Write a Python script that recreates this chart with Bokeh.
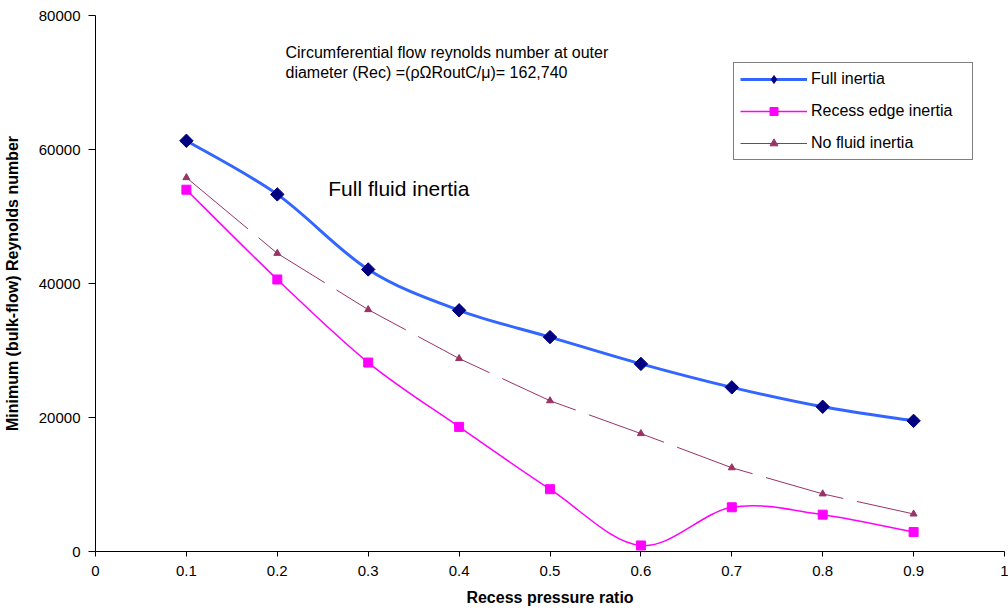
from bokeh.plotting import figure
from bokeh.models import Label, Legend, LegendItem, FixedTicker, ColumnDataSource
from bokeh.embed import file_html
from bokeh.resources import INLINE
import numpy as np

# ---- data ----
pressure_ratio = [0.1, 0.2, 0.3, 0.4, 0.5, 0.6, 0.7, 0.8, 0.9]
full_inertia = [61300, 53300, 42100, 36000, 32000, 28000, 24500, 21600, 19500]
recess_edge_inertia = [54000, 40600, 28200, 18600, 9300, 900, 6600, 5500, 2900]
no_fluid_inertia = [55800, 44500, 36100, 28800, 22500, 17600, 12500, 8600, 5600]

x_ticks = [0, 0.1, 0.2, 0.3, 0.4, 0.5, 0.6, 0.7, 0.8, 0.9, 1]
x_tick_labels = ["0", "0.1", "0.2", "0.3", "0.4", "0.5", "0.6", "0.7", "0.8", "0.9", "1"]
y_ticks = [0, 20000, 40000, 60000, 80000]
y_tick_labels = ["0", "20000", "40000", "60000", "80000"]

FONT = "Liberation Sans"


def smooth_segments(xs, ys):
    """Catmull-Rom style Bezier control points (as Excel's smoothed line)."""
    xs = np.asarray(xs, float)
    ys = np.asarray(ys, float)
    n = len(xs)
    d = dict(x0=[], y0=[], x1=[], y1=[], cx0=[], cy0=[], cx1=[], cy1=[])
    for i in range(n - 1):
        p0 = max(i - 1, 0)
        p3 = min(i + 2, n - 1)
        d["x0"].append(xs[i]); d["y0"].append(ys[i])
        d["x1"].append(xs[i + 1]); d["y1"].append(ys[i + 1])
        d["cx0"].append(xs[i] + (xs[i + 1] - xs[p0]) / 6)
        d["cy0"].append(ys[i] + (ys[i + 1] - ys[p0]) / 6)
        d["cx1"].append(xs[i + 1] - (xs[p3] - xs[i]) / 6)
        d["cy1"].append(ys[i + 1] - (ys[p3] - ys[i]) / 6)
    return ColumnDataSource(d)


p = figure(width=1008, height=610, x_range=(0, 1), y_range=(0, 80000),
           output_backend="svg", toolbar_location=None,
           min_border_left=95, min_border_right=4, min_border_top=15, min_border_bottom=59)
p.outline_line_color = None
p.grid.visible = False
p.background_fill_color = "white"
p.border_fill_color = "white"

# axes
p.xaxis.ticker = FixedTicker(ticks=x_ticks)
p.xaxis.major_label_overrides = {t: l for t, l in zip(x_ticks, x_tick_labels)}
p.yaxis.ticker = FixedTicker(ticks=y_ticks)
p.yaxis.major_label_overrides = {t: l for t, l in zip(y_ticks, y_tick_labels)}
for ax in (p.xaxis, p.yaxis):
    ax.axis_line_color = "black"
    ax.major_tick_line_color = "black"
    ax.minor_tick_line_color = None
    ax.major_tick_in = 0
    ax.major_label_text_font = FONT
    ax.major_label_text_font_size = "15px"
    ax.major_label_text_color = "black"
    ax.axis_label_text_font = FONT
    ax.axis_label_text_font_size = "16px"
    ax.axis_label_text_font_style = "bold"
    ax.axis_label_text_color = "black"
p.xaxis.major_tick_out = 5
p.yaxis.major_tick_out = 7
p.xaxis.axis_label = "Recess pressure ratio"
p.yaxis.axis_label = "Minimum (bulk-flow) Reynolds number"
p.xaxis.major_label_standoff = 9
p.xaxis.axis_label_standoff = 10
p.yaxis.major_label_standoff = 8
p.yaxis.axis_label_standoff = 15

# series
r_nf_line = p.line(pressure_ratio, no_fluid_inertia, line_color="#993366", line_width=1,
                   line_dash="80 14")
r_nf_pts = p.scatter(pressure_ratio, no_fluid_inertia, marker="triangle", size=7,
                     fill_color="#993366", line_color="#993366")

src_rec = smooth_segments(pressure_ratio, recess_edge_inertia)
r_rec_line = p.bezier(x0="x0", y0="y0", x1="x1", y1="y1", cx0="cx0", cy0="cy0",
                      cx1="cx1", cy1="cy1", source=src_rec, line_color="#FF00FF", line_width=1.5)
r_rec_pts = p.scatter(pressure_ratio, recess_edge_inertia, marker="square", size=9,
                      fill_color="#FF00FF", line_color="#FF00FF")

src_full = smooth_segments(pressure_ratio, full_inertia)
r_full_line = p.bezier(x0="x0", y0="y0", x1="x1", y1="y1", cx0="cx0", cy0="cy0",
                       cx1="cx1", cy1="cy1", source=src_full, line_color="#3366FF", line_width=3)
# diamond glyph (sits fully under the rotated squares; gives the legend its diamond key)
r_full_key = p.scatter(pressure_ratio, full_inertia, marker="diamond", size=11,
                       fill_color="#000080", line_color="#000080")
r_full_pts = p.scatter(pressure_ratio, full_inertia, marker="square", angle=np.pi / 4, size=9.5,
                       fill_color="#000080", line_color="#000080")

legend = Legend(items=[
    LegendItem(label="Full inertia", renderers=[r_full_line, r_full_key]),
    LegendItem(label="Recess edge inertia", renderers=[r_rec_line, r_rec_pts]),
    LegendItem(label="No fluid inertia", renderers=[r_nf_line, r_nf_pts]),
], location=(638, 391))
legend.border_line_color = "black"
legend.border_line_width = 1
legend.background_fill_color = "white"
legend.background_fill_alpha = 1
legend.padding = 6
legend.spacing = 12
legend.glyph_width = 67
legend.glyph_height = 20
legend.label_standoff = 4
legend.label_width = 155
legend.label_text_font = FONT
legend.label_text_font_size = "16px"
legend.label_text_color = "black"
legend.margin = 0
p.add_layout(legend)

# annotations
p.add_layout(Label(x=0.209, y=74500, text="Circumferential flow reynolds number at outer",
                   text_font=FONT, text_font_size="16px", text_baseline="middle", text_color="black"))
p.add_layout(Label(x=0.209, y=71500, text="diameter (Rec) =(ρΩRoutC/μ)= 162,740",
                   text_font=FONT, text_font_size="16px", text_baseline="middle", text_color="black"))
p.add_layout(Label(x=0.256, y=54200, text="Full fluid inertia",
                   text_font=FONT, text_font_size="21px", text_baseline="middle", text_color="black"))

open("out.html", "w").write(file_html(p, INLINE))
